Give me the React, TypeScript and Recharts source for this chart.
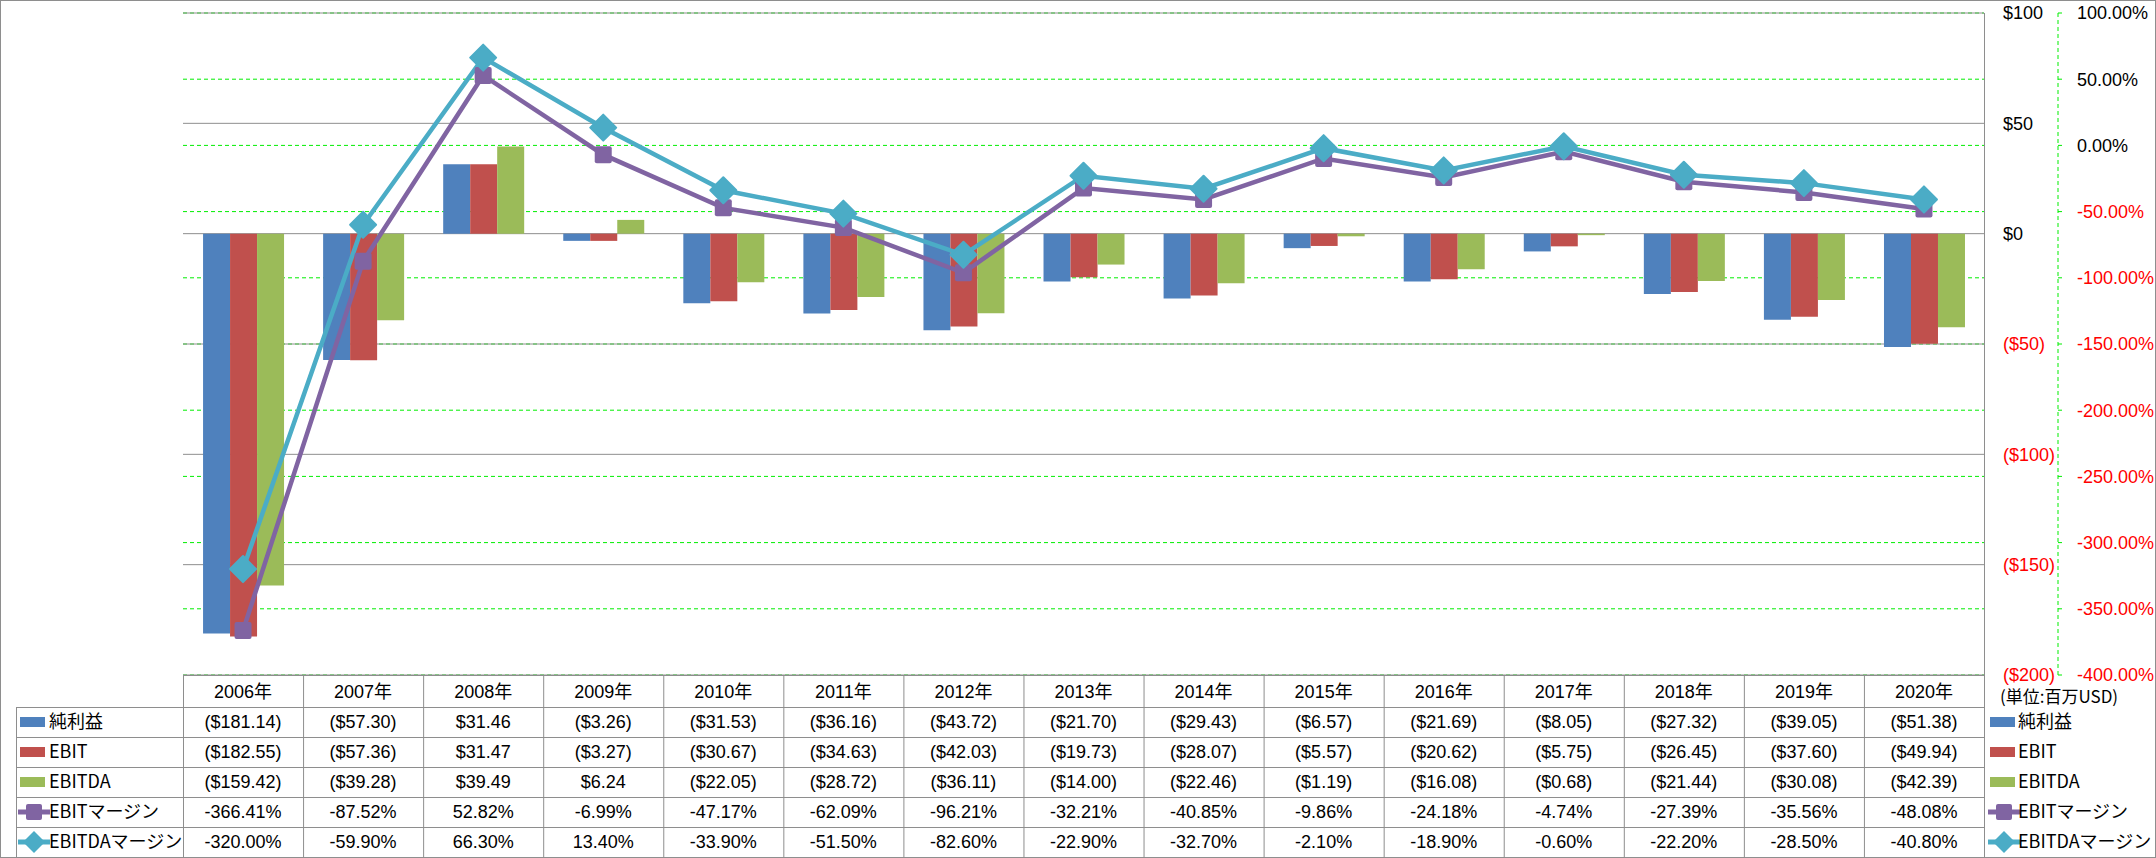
import { ComposedChart, Bar, Line, XAxis, YAxis, CartesianGrid } from 'recharts';

// categories and values
const years = ['2006年', '2007年', '2008年', '2009年', '2010年', '2011年', '2012年', '2013年', '2014年', '2015年', '2016年', '2017年', '2018年', '2019年', '2020年'];
const netIncome = [-181.14, -57.3, 31.46, -3.26, -31.53, -36.16, -43.72, -21.7, -29.43, -6.57, -21.69, -8.05, -27.32, -39.05, -51.38];
const ebit = [-182.55, -57.36, 31.47, -3.27, -30.67, -34.63, -42.03, -19.73, -28.07, -5.57, -20.62, -5.75, -26.45, -37.6, -49.94];
const ebitda = [-159.42, -39.28, 39.49, 6.24, -22.05, -28.72, -36.11, -14.0, -22.46, -1.19, -16.08, -0.68, -21.44, -30.08, -42.39];
const ebitMargin = [-366.41, -87.52, 52.82, -6.99, -47.17, -62.09, -96.21, -32.21, -40.85, -9.86, -24.18, -4.74, -27.39, -35.56, -48.08];
const ebitdaMargin = [-320.0, -59.9, 66.3, 13.4, -33.9, -51.5, -82.6, -22.9, -32.7, -2.1, -18.9, -0.6, -22.2, -28.5, -40.8];

const usdTicks = [100, 50, 0, -50, -100, -150, -200];
const pctTicks = [100, 50, 0, -50, -100, -150, -200, -250, -300, -350, -400];

const BLUE = '#4F81BD';
const RED = '#C0504D';
const GREEN = '#9BBB59';
const PURPLE = '#8064A2';
const CYAN = '#4BACC6';
const GRID = '#8E8E8E';
const LIME = '#00EE00';

const W = 2156;
const H = 858;
const PLOT_LEFT = 183;
const PLOT_TOP = 13;
const PLOT_RIGHT = 1984;
const PLOT_BOTTOM = 675;
const HEADER_H = 32;
const ROW_H = 30;
const LABEL_LEFT = 16;

const FONT = '"Liberation Sans", Arial, "Noto Sans CJK JP", sans-serif';
const CJK = '"Noto Sans CJK JP", "Liberation Sans", sans-serif';

const money = (v: number) => (v < 0 ? `($${Math.abs(v).toFixed(2)})` : `$${v.toFixed(2)}`);
const pct = (v: number) => `${v.toFixed(2)}%`;

const data = years.map((year, i) => ({
  year,
  net: netIncome[i],
  ebit: ebit[i],
  ebitda: ebitda[i],
  ebitM: ebitMargin[i],
  ebitdaM: ebitdaMargin[i],
}));

const rows = [
  { name: '純利益', kind: 'bar', color: BLUE, values: netIncome.map(money) },
  { name: 'EBIT', kind: 'bar', color: RED, values: ebit.map(money) },
  { name: 'EBITDA', kind: 'bar', color: GREEN, values: ebitda.map(money) },
  { name: 'EBITマージン', kind: 'square', color: PURPLE, values: ebitMargin.map(pct) },
  { name: 'EBITDAマージン', kind: 'diamond', color: CYAN, values: ebitdaMargin.map(pct) },
];

const SquareDot = (props: any) => {
  const { cx, cy, index } = props;
  if (cx == null || cy == null) return null;
  return <rect key={`sq-${index}`} x={cx - 8.5} y={cy - 8.5} width={17} height={17} rx={2} fill={PURPLE} />;
};

const DiamondDot = (props: any) => {
  const { cx, cy, index } = props;
  if (cx == null || cy == null) return null;
  const r = 13;
  return (
    <polygon
      key={`dm-${index}`}
      points={`${cx},${cy - r} ${cx + r},${cy} ${cx},${cy + r} ${cx - r},${cy}`}
      fill={CYAN}
      stroke={CYAN}
      strokeLinejoin="round"
      strokeWidth={2}
    />
  );
};

const UsdTick = (props: any) => {
  const { x, y, payload } = props;
  const v = payload.value;
  const label = v < 0 ? `($${Math.abs(v)})` : `$${v}`;
  return (
    <text x={x} y={y} dy="0.35em" textAnchor="start" fontSize={18} fontFamily={FONT} fill={v < 0 ? '#FF0000' : '#000'}>
      {label}
    </text>
  );
};

const PctTick = (props: any) => {
  const { x, y, payload } = props;
  const v = payload.value;
  return (
    <text x={x} y={y} dy="0.35em" textAnchor="start" fontSize={18} fontFamily={FONT} fill={v < 0 ? '#FF0000' : '#000'}>
      {v.toFixed(2)}%
    </text>
  );
};

const YearTick = (props: any) => {
  const { x, y, payload } = props;
  return (
    <text x={x} y={y} dy="0.71em" textAnchor="middle" fontSize={18} fontFamily={FONT} fill="#000">
      {payload.value}
    </text>
  );
};

// small legend key, used both in the table and in the right-hand legend
function Key({ kind, color, x, y }: { kind: string; color: string; x: number; y: number }) {
  if (kind === 'bar') return <rect x={x} y={y - 5} width={25} height={10} fill={color} />;
  const cx = x + 14;
  return (
    <g>
      <line x1={x - 2} y1={y} x2={x + 30} y2={y} stroke={color} strokeWidth={5} />
      {kind === 'square' ? (
        <rect x={cx - 8} y={y - 8} width={16} height={16} rx={2} fill={color} />
      ) : (
        <polygon points={`${cx},${y - 11} ${cx + 11},${y} ${cx},${y + 11} ${cx - 11},${y}`} fill={color} />
      )}
    </g>
  );
}

function Overlay() {
  const colW = (PLOT_RIGHT - PLOT_LEFT) / years.length;
  const rowTop = PLOT_BOTTOM + HEADER_H;
  return (
    <svg width={W} height={H} style={{ position: 'absolute', left: 0, top: 0, pointerEvents: 'none' }}>
      <rect x={0.5} y={0.5} width={W - 1} height={H - 1} fill="none" stroke={GRID} />
      <line x1={PLOT_RIGHT + 0.5} y1={PLOT_TOP} x2={PLOT_RIGHT + 0.5} y2={H} stroke={GRID} />
      <line x1={PLOT_LEFT} y1={PLOT_BOTTOM + 0.5} x2={PLOT_RIGHT} y2={PLOT_BOTTOM + 0.5} stroke={GRID} />
      {years.map((_, i) => (
        <line key={`v${i}`} x1={PLOT_LEFT + i * colW + 0.5} y1={PLOT_BOTTOM} x2={PLOT_LEFT + i * colW + 0.5} y2={H} stroke={GRID} />
      ))}
      <line x1={LABEL_LEFT + 0.5} y1={rowTop} x2={LABEL_LEFT + 0.5} y2={H} stroke={GRID} />
      {rows.map((r, ri) => {
        const top = rowTop + ri * ROW_H;
        const cy = top + ROW_H / 2;
        return (
          <g key={r.name}>
            <line x1={LABEL_LEFT} y1={top + 0.5} x2={PLOT_RIGHT} y2={top + 0.5} stroke={GRID} />
            <Key kind={r.kind} color={r.color} x={LABEL_LEFT + 4} y={cy} />
            <text x={LABEL_LEFT + 33} y={cy} dy="0.35em" fontSize={18} fontFamily={CJK} fill="#000">
              {r.name}
            </text>
            {r.values.map((v, i) => (
              <text
                key={i}
                x={PLOT_LEFT + (i + 0.5) * colW}
                y={cy}
                dy="0.35em"
                textAnchor="middle"
                fontSize={18}
                fontFamily={FONT}
                fill="#000"
              >
                {v}
              </text>
            ))}
            <Key kind={r.kind} color={r.color} x={PLOT_RIGHT + 6} y={cy} />
            <text x={PLOT_RIGHT + 34} y={cy} dy="0.35em" fontSize={18} fontFamily={CJK} fill="#000">
              {r.name}
            </text>
          </g>
        );
      })}
      <text x={PLOT_RIGHT + 16} y={PLOT_BOTTOM + 22} dy="0.35em" fontSize={17} fontFamily={CJK} fill="#000">
        (単位:百万USD)
      </text>
    </svg>
  );
}

export default function App() {
  return (
    <div style={{ position: 'absolute', left: 0, top: 0, width: W, height: H, background: '#fff' }}>
      <ComposedChart
        width={W}
        height={H}
        data={data}
        margin={{ top: PLOT_TOP, left: PLOT_LEFT, right: 0, bottom: H - PLOT_BOTTOM - HEADER_H }}
        barCategoryGap="16.7%"
        barGap={0}
      >
        <CartesianGrid yAxisId="b_pct" vertical={false} stroke={LIME} strokeDasharray="4 3" />
        <CartesianGrid yAxisId="a_usd" vertical={false} stroke={GRID} />
        <XAxis
          dataKey="year"
          height={HEADER_H}
          axisLine={false}
          tickLine={false}
          tickSize={0}
          tickMargin={10}
          interval={0}
          tick={<YearTick />}
        />
        <YAxis
          yAxisId="b_pct"
          orientation="right"
          width={98}
          domain={[-400, 100]}
          ticks={pctTicks}
          interval={0}
          axisLine={{ stroke: LIME, strokeDasharray: '4 3' }}
          tickLine={{ stroke: LIME }}
          tickSize={4}
          tickMargin={15}
          tick={<PctTick />}
        />
        <YAxis
          yAxisId="a_usd"
          orientation="right"
          width={74}
          domain={[-200, 100]}
          ticks={usdTicks}
          interval={0}
          axisLine={false}
          tickLine={false}
          tickSize={0}
          tickMargin={19}
          tick={<UsdTick />}
        />
        <Bar yAxisId="a_usd" dataKey="net" name="純利益" fill={BLUE} isAnimationActive={false} />
        <Bar yAxisId="a_usd" dataKey="ebit" name="EBIT" fill={RED} isAnimationActive={false} />
        <Bar yAxisId="a_usd" dataKey="ebitda" name="EBITDA" fill={GREEN} isAnimationActive={false} />
        <Line
          yAxisId="b_pct"
          type="linear"
          dataKey="ebitM"
          name="EBITマージン"
          stroke={PURPLE}
          strokeWidth={4.5}
          dot={<SquareDot />}
          activeDot={false}
          isAnimationActive={false}
        />
        <Line
          yAxisId="b_pct"
          type="linear"
          dataKey="ebitdaM"
          name="EBITDAマージン"
          stroke={CYAN}
          strokeWidth={4.5}
          dot={<DiamondDot />}
          activeDot={false}
          isAnimationActive={false}
        />
      </ComposedChart>
      <Overlay />
    </div>
  );
}
